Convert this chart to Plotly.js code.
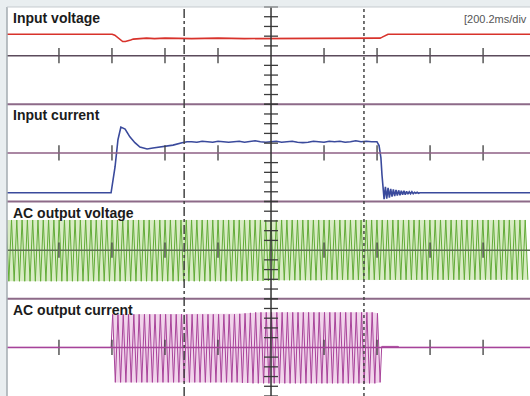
<!DOCTYPE html>
<html><head><meta charset="utf-8">
<script src="https://cdn.plot.ly/plotly-3.0.1.min.js"></script>
<style>html,body{margin:0;padding:0;background:#e9eef0;overflow:hidden;}#chart{width:530px;height:396px;}</style>
</head><body><div id="chart"></div>
<script>
// ---- data (x in ms relative to centre graticule, y in vertical divisions) ----
const timePerDivMs = 200.2;
const tickDivs = [-4, -3, -2, -1, 1, 2, 3, 4];
const minorTickDivs = [-1, -0.8, -0.6, -0.4, -0.2, 0.2, 0.4, 0.6, 0.8, 1];
const panelLabels = ["Input voltage", "Input current", "AC output voltage", "AC output current"];
const timebaseLabel = "[200.2ms/div";
const cursorTimesMs = [-328, 351];

const vinTime  = [-1000, -600, -590, -580, -570, -560, -550, -540, -530, -520, -505, -490, -470, -440, -400, -300, -200, -100, 0, 100, 200, 300, 400, 412, 420, 430, 442, 460, 1000];
const vinValue = [0.44, 0.44, 0.42, 0.37, 0.32, 0.29, 0.29, 0.30, 0.32, 0.34, 0.35, 0.36, 0.36, 0.35, 0.36, 0.35, 0.36, 0.35, 0.35, 0.36, 0.35, 0.36, 0.36, 0.36, 0.38, 0.41, 0.44, 0.44, 0.44];

const iinTime = [-1000, -604, -589, -578, -567, -551, -533, -514, -495, -468, -446, -419, -393, -370, -336, -317,
  -300, -280, -260, -240, -220, -200, -180, -160, -140, -120, -100, -80, -60, -40, -20, 0, 20, 40, 60, 80, 100, 120, 140, 160, 180, 200, 220, 240, 260, 280, 300, 320, 340, 360, 380, 400,
  408, 415, 419, 423,
  427, 432, 437, 442, 447, 452, 457, 462, 467, 472, 477, 482, 487, 492, 497, 502, 507, 512, 517, 522, 527, 532, 537, 542, 547, 552, 557, 562, 567, 575, 1000];
const iinValue = [-0.82, -0.82, -0.29, 0.27, 0.53, 0.49, 0.33, 0.21, 0.12, 0.08, 0.10, 0.12, 0.14, 0.16, 0.21, 0.23,
  0.23, 0.22, 0.24, 0.23, 0.22, 0.24, 0.23, 0.22, 0.23, 0.24, 0.22, 0.23, 0.25, 0.23, 0.22, 0.23, 0.24, 0.22, 0.23, 0.24, 0.22, 0.21, 0.22, 0.24, 0.23, 0.22, 0.24, 0.23, 0.24, 0.22, 0.23, 0.25, 0.23, 0.24, 0.23, 0.23,
  0.15, -0.10, -0.45, -0.75,
  -0.95, -0.70, -0.94, -0.72, -0.92, -0.74, -0.90, -0.75, -0.89, -0.76, -0.88, -0.77, -0.87, -0.78, -0.86, -0.78, -0.86, -0.79, -0.85, -0.80, -0.84, -0.80, -0.84, -0.81, -0.83, -0.81, -0.83, -0.82, -0.82, -0.82, -0.82];

// AC output voltage: one positive and one negative peak per 20 ms cycle (50 Hz)
const acVoltageStartMs = -1000;
const acHalfPeriodMs = 10;
const acVoltageTops = [
  0.62,0.62,0.62,0.62,0.62,0.62,0.62,0.62,0.62,0.62,
  0.62,0.62,0.62,0.62,0.62,0.62,0.62,0.62,0.62,0.62,
  0.62,0.62,0.62,0.62,0.62,0.62,0.62,0.62,0.62,0.62,
  0.62,0.62,0.62,0.62,0.62,0.62,0.62,0.62,0.62,0.62,
  0.62,0.62,0.62,0.62,0.62,0.62,0.62,0.62,0.62,0.62,
  0.62,0.62,0.62,0.62,0.62,0.62,0.62,0.62,0.62,0.62,
  0.62,0.62,0.62,0.62,0.62,0.62,0.62,0.62,0.62,0.62,
  0.62,0.62,0.62,0.62,0.62,0.62,0.62,0.62,0.62,0.62,
  0.62,0.62,0.62,0.62,0.62,0.62,0.62,0.62,0.62,0.62,
  0.62,0.62,0.62,0.62,0.62,0.62,0.62,0.62,0.62];
const acVoltageBottoms = [
  -0.64,-0.64,-0.64,-0.64,-0.64,-0.64,-0.64,-0.64,-0.64,-0.64,
  -0.64,-0.64,-0.64,-0.64,-0.64,-0.64,-0.64,-0.64,-0.64,-0.64,
  -0.64,-0.64,-0.64,-0.64,-0.64,-0.64,-0.64,-0.64,-0.64,-0.64,
  -0.64,-0.64,-0.64,-0.64,-0.64,-0.64,-0.64,-0.64,-0.64,-0.64,
  -0.64,-0.64,-0.64,-0.64,-0.64,-0.63,-0.63,-0.63,-0.63,-0.63,
  -0.62,-0.62,-0.62,-0.62,-0.62,-0.62,-0.62,-0.62,-0.62,-0.62,
  -0.61,-0.61,-0.61,-0.61,-0.61,-0.61,-0.61,-0.61,-0.61,-0.61,
  -0.61,-0.61,-0.61,-0.61,-0.61,-0.61,-0.61,-0.61,-0.61,-0.61,
  -0.61,-0.61,-0.61,-0.61,-0.61,-0.61,-0.61,-0.61,-0.61,-0.61,
  -0.61,-0.61,-0.61,-0.61,-0.61,-0.61,-0.61,-0.61,-0.61];

// AC output current: zero, then 51 cycles, then zero
const acCurrentOffTimeBefore = [-1000, -604];
const acCurrentOffValueBefore = [0, 0];
const acCurrentStartMs = -598;
const acCurrentTops = [
  0.68,0.68,0.68,0.68,0.68,0.68,0.68,0.68,0.68,0.68,
  0.68,0.68,0.68,0.68,0.68,0.68,0.68,0.68,0.68,0.68,
  0.68,0.68,0.68,0.68,0.69,0.70,0.71,0.72,0.72,0.72,
  0.72,0.72,0.72,0.72,0.72,0.72,0.72,0.72,0.72,0.72,
  0.72,0.72,0.72,0.72,0.72,0.72,0.72,0.72,0.72,0.72,0.70];
const acCurrentBottoms = [
  -0.72,-0.72,-0.72,-0.72,-0.72,-0.72,-0.72,-0.72,-0.72,-0.72,
  -0.72,-0.72,-0.72,-0.72,-0.72,-0.72,-0.72,-0.72,-0.72,-0.72,
  -0.72,-0.72,-0.72,-0.72,-0.73,-0.73,-0.74,-0.74,-0.74,-0.74,
  -0.74,-0.74,-0.74,-0.74,-0.74,-0.74,-0.74,-0.74,-0.74,-0.74,
  -0.74,-0.74,-0.74,-0.74,-0.74,-0.74,-0.74,-0.74,-0.74,-0.74,-0.72];
const acCurrentOffTimeAfter = [418, 480, 485, 1000];
const acCurrentOffValueAfter = [0.02, 0.02, 0, 0];

// ---- build ----
function peaksToWave(startMs, tops, bottoms) {
  const x = [], y = [], tx = [], bx = [];
  for (let i = 0; i < tops.length; i++) {
    const t1 = startMs + (2 * i) * acHalfPeriodMs, t2 = startMs + (2 * i + 1) * acHalfPeriodMs;
    x.push(t1, t2); y.push(tops[i], bottoms[i]); tx.push(t1); bx.push(t2);
  }
  return {x, y, tx, bx};
}
const vW = peaksToWave(acVoltageStartMs, acVoltageTops, acVoltageBottoms);
const cW = peaksToWave(acCurrentStartMs, acCurrentTops, acCurrentBottoms);

const traces = [];
// envelope fills
traces.push({x: vW.tx.concat(vW.bx.slice().reverse()), y: acVoltageTops.concat(acVoltageBottoms.slice().reverse()),
  yaxis: 'y3', mode: 'lines', fill: 'toself', fillcolor: 'rgba(180,218,140,0.5)', line: {width: 0}, hoverinfo: 'skip'});
traces.push({x: cW.tx.concat(cW.bx.slice().reverse()), y: acCurrentTops.concat(acCurrentBottoms.slice().reverse()),
  yaxis: 'y4', mode: 'lines', fill: 'toself', fillcolor: 'rgba(228,170,215,0.5)', line: {width: 0}, hoverinfo: 'skip'});
// waveforms
traces.push({x: vinTime, y: vinValue, yaxis: 'y', mode: 'lines', line: {color: '#d8322b', width: 1.6}});
traces.push({x: iinTime, y: iinValue, yaxis: 'y2', mode: 'lines', line: {color: '#3a4a9c', width: 1.6}});
traces.push({x: vW.x, y: vW.y, yaxis: 'y3', mode: 'lines', line: {color: '#62ab38', width: 1}});
traces.push({x: acCurrentOffTimeBefore.concat(cW.x, acCurrentOffTimeAfter),
  y: acCurrentOffValueBefore.concat(cW.y, acCurrentOffValueAfter), yaxis: 'y4', mode: 'lines', line: {color: '#a8449a', width: 1}});

const axNames = ['y', 'y2', 'y3', 'y4'];
const centerColors = ['#5b4a5b', '#8e5f85', '#5c6e52', '#a6439a'];
// graticule ticks
axNames.forEach(a => {
  traces.push({x: tickDivs.map(d => d * timePerDivMs), y: tickDivs.map(() => 0), yaxis: a, mode: 'markers', cliponaxis: false,
    marker: {symbol: 'line-ns', size: 11, line: {width: 1.3, color: '#3c3c3c'}}, hoverinfo: 'skip'});
  traces.push({x: minorTickDivs.map(() => 0), y: minorTickDivs, yaxis: a, mode: 'markers', cliponaxis: false,
    marker: {symbol: 'line-ew', size: 10, line: {width: 1.3, color: '#3c3c3c'}}, hoverinfo: 'skip'});
});

const shapes = [];
[0.25, 0.5, 0.75].forEach(p => shapes.push({type: 'line', xref: 'paper', yref: 'paper', x0: 0, x1: 1, y0: p, y1: p, line: {color: '#8d6a88', width: 2}, layer: 'below'}));
axNames.forEach((a, i) => shapes.push({type: 'line', xref: 'paper', yref: a, x0: 0, x1: 1, y0: 0, y1: 0, line: {color: centerColors[i], width: 1.5}, layer: 'above'}));
shapes.push({type: 'line', xref: 'x', yref: 'paper', x0: 0, x1: 0, y0: 0, y1: 1, line: {color: '#333', width: 1.5}});
shapes.push({type: 'line', xref: 'x', yref: 'paper', x0: cursorTimesMs[0], x1: cursorTimesMs[0], y0: 0, y1: 1, line: {color: '#444', width: 1.5, dash: 'dashdot'}});
shapes.push({type: 'line', xref: 'x', yref: 'paper', x0: cursorTimesMs[1], x1: cursorTimesMs[1], y0: 0, y1: 1, line: {color: '#444', width: 1.5, dash: 'dot'}});
shapes.push({type: 'line', xref: 'paper', yref: 'paper', x0: 0, x1: 0, y0: 0, y1: 1, line: {color: '#a3abb0', width: 1.5}});
shapes.push({type: 'line', xref: 'paper', yref: 'paper', x0: 0, x1: 1, y0: 1, y1: 1, line: {color: '#c5cbcf', width: 1}});

const annotations = panelLabels.map((t, i) => ({
  text: t, xref: 'paper', yref: axNames[i] + ' domain', x: 0.0076, y: 1, xanchor: 'left', yanchor: 'top', yshift: -1,
  showarrow: false, font: {family: 'Liberation Sans, Arial, sans-serif', size: 14, color: '#1b1b1b', weight: 'bold'}
}));
annotations.push({text: timebaseLabel, xref: 'paper', yref: 'paper', x: 1, y: 1, xanchor: 'right', yanchor: 'top', yshift: -4, xshift: -1,
  showarrow: false, font: {family: 'Liberation Sans, Arial, sans-serif', size: 11, color: '#555'}});

const hiddenY = dom => ({domain: dom, range: [-1, 1], anchor: 'x', showgrid: false, zeroline: false, showticklabels: false, ticks: '', showline: false, fixedrange: true});
const layout = {
  width: 530, height: 396, margin: {l: 7, r: 0, t: 7, b: 0, pad: 0},
  paper_bgcolor: '#e9eef0', plot_bgcolor: '#ffffff', showlegend: false,
  xaxis: {range: [-997, 978], showgrid: false, zeroline: false, showticklabels: false, ticks: '', showline: false, fixedrange: true},
  yaxis: hiddenY([0.75, 1]), yaxis2: hiddenY([0.5, 0.75]), yaxis3: hiddenY([0.25, 0.5]), yaxis4: hiddenY([0, 0.25]),
  shapes, annotations
};
Plotly.newPlot('chart', traces, layout, {staticPlot: true, displayModeBar: false});
</script></body></html>
